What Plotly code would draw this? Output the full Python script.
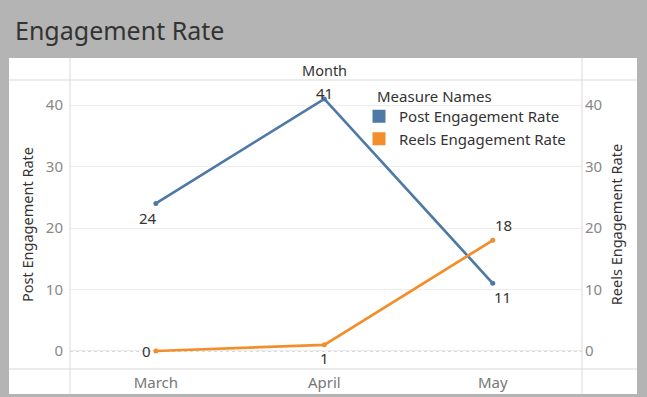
import plotly.graph_objects as go

months = ["March", "April", "May"]
post_rate = [24, 41, 11]
reels_rate = [0, 1, 18]
# label offsets in pixels (x, y) relative to each point
post_label_shift = [(-8, -15), (0, 6), (10, -14)]
reels_label_shift = [(-9, 0), (0, -13), (11, 15)]

POST_C = "#4e79a7"
REELS_C = "#f28e2b"
FONT = "Noto Sans"

W, H = 647, 397
L, R, T, B = 70, 582, 80, 369
pw, ph = R - L, B - T

def px(x):
    return (x - L) / pw

def py(y):
    return (B - y) / ph

fig = go.Figure()
fig.add_trace(go.Scatter(
    x=months, y=post_rate, mode="lines+markers",
    line=dict(color=POST_C, width=2.7), marker=dict(size=5, color=POST_C),
    showlegend=False, cliponaxis=False, yaxis="y"))
fig.add_trace(go.Scatter(
    x=months, y=reels_rate, mode="lines+markers",
    line=dict(color=REELS_C, width=2.7), marker=dict(size=5, color=REELS_C),
    showlegend=False, cliponaxis=False, yaxis="y2"))
# legend swatches
fig.add_trace(go.Scatter(x=[None], y=[None], mode="markers", name="Post Engagement Rate",
                         marker=dict(symbol="square", size=13, color=POST_C)))
fig.add_trace(go.Scatter(x=[None], y=[None], mode="markers", name="Reels Engagement Rate",
                         marker=dict(symbol="square", size=13, color=REELS_C)))

for m, v, (dx, dy) in zip(months, post_rate, post_label_shift):
    fig.add_annotation(x=m, y=v, xref="x", yref="y", text=str(v), showarrow=False,
                       xshift=dx, yshift=dy, font=dict(size=15, color="#333"))
for m, v, (dx, dy) in zip(months, reels_rate, reels_label_shift):
    fig.add_annotation(x=m, y=v, xref="x", yref="y2", text=str(v), showarrow=False,
                       xshift=dx, yshift=dy, font=dict(size=15, color="#333"))

yr = [-2.93, 44.07]
fig.update_layout(
    width=W, height=H,
    margin=dict(l=L, r=W - R, t=T, b=H - B, pad=0, autoexpand=False),
    paper_bgcolor="#b4b4b4", plot_bgcolor="white",
    font=dict(family=FONT, size=15, color="#333"),
    title=dict(text="Engagement Rate", x=15 / W, xref="container", xanchor="left",
               y=1 - 31 / H, yref="container", yanchor="middle",
               font=dict(family=FONT, size=25, color="#333")),
    xaxis=dict(range=[-0.51, 2.53], showgrid=False, zeroline=False, showline=False,
               automargin=False,
               ticks="", tickfont=dict(color="#777", size=15), ticklabelstandoff=3),
    yaxis=dict(range=yr, dtick=10, showgrid=True, gridcolor="#ededed", zeroline=False,
               automargin=False,
               ticks="", tickfont=dict(color="#888", size=15), showline=False,
               ticklabelstandoff=6,
               title=dict(text="Post Engagement Rate", font=dict(size=14.5, color="#333"), standoff=8)),
    yaxis2=dict(range=yr, dtick=10, overlaying="y", side="right", showgrid=False,
                automargin=False,
                zeroline=False, ticks="", tickfont=dict(color="#888", size=15),
                ticklabelstandoff=2,
                title=dict(text="Reels Engagement Rate", font=dict(size=14.5, color="#333"), standoff=10)),
    legend=dict(x=px(359), y=py(100), xanchor="left", yanchor="top", bgcolor="rgba(0,0,0,0)",
                font=dict(size=15, color="#333"), tracegroupgap=0, itemwidth=30),
)

shapes = [
    dict(type="rect", xref="paper", yref="paper", x0=px(9), x1=px(637), y0=py(394), y1=py(58),
         fillcolor="white", line=dict(width=0), layer="below"),
    dict(type="line", xref="paper", yref="paper", x0=px(9), x1=px(637), y0=py(80), y1=py(80),
         line=dict(color="#d9d9d9", width=1)),
    dict(type="line", xref="paper", yref="paper", x0=px(9), x1=px(637), y0=py(369), y1=py(369),
         line=dict(color="#d9d9d9", width=1)),
    dict(type="line", xref="paper", yref="paper", x0=px(70), x1=px(70), y0=py(394), y1=py(58),
         line=dict(color="#d9d9d9", width=1)),
    dict(type="line", xref="paper", yref="paper", x0=px(582), x1=px(582), y0=py(394), y1=py(58),
         line=dict(color="#d9d9d9", width=1)),
    dict(type="line", xref="paper", yref="y", x0=0, x1=1, y0=0, y1=0,
         line=dict(color="#b0b0b0", width=1, dash="dot"), layer="below"),
    dict(type="rect", xref="paper", yref="paper", x0=px(370), x1=px(572), y0=py(148), y1=py(84),
         fillcolor="white", line=dict(width=0), layer="below"),
]
fig.update_layout(shapes=shapes)
fig.add_annotation(text="Month", xref="paper", yref="paper", x=px(324), y=py(70),
                   yanchor="middle", showarrow=False, font=dict(size=14.5, color="#333"))
fig.add_annotation(text="Measure Names", xref="paper", yref="paper", x=px(375), y=py(96),
                   xanchor="left", yanchor="middle", showarrow=False,
                   font=dict(size=15, color="#333"))

fig.write_html("out.html", config={"displayModeBar": False},
               post_script="document.body.style.margin='0';")
